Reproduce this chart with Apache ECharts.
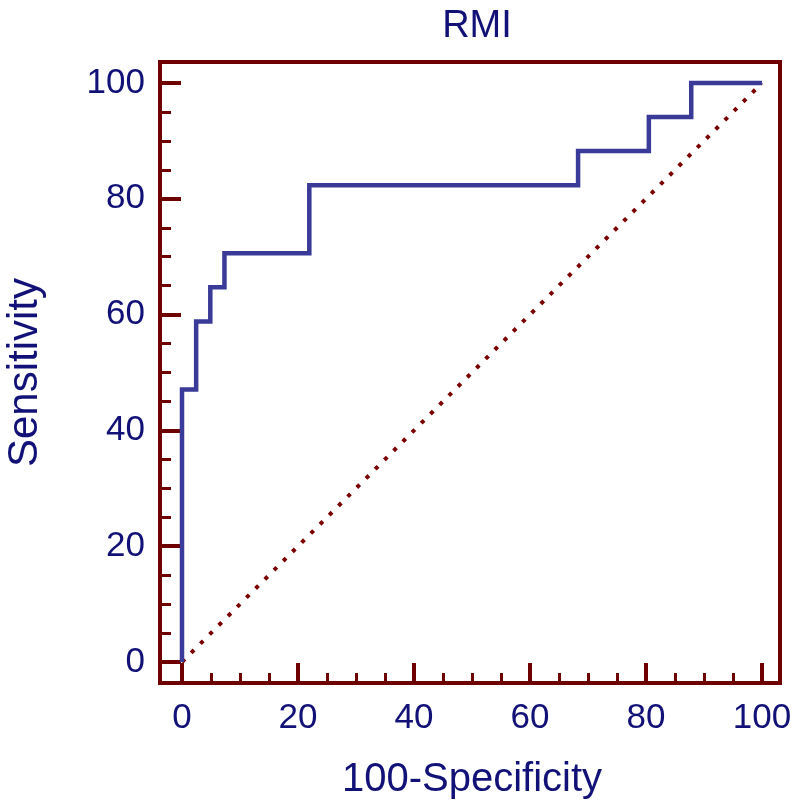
<!DOCTYPE html>
<html>
<head>
<meta charset="utf-8">
<script src="https://cdn.jsdelivr.net/npm/echarts@6/dist/echarts.min.js"></script>
<style>
html,body{margin:0;padding:0;background:#fff;}
#chart{width:798px;height:809px;}
</style>
</head>
<body>
<div id="chart"></div>
<script>
// ROC operating points (100-Specificity, Sensitivity)
const fpr = [0, 2.44, 4.88, 7.32, 21.95, 68.29, 80.49, 87.80, 100];
const sensitivity = [0, 47.06, 58.82, 64.71, 70.59, 82.35, 88.24, 94.12, 100];
const diagX = [0, 100];
const diagY = [0, 100];
const tickValues = [0, 20, 40, 60, 80, 100];

const textColor = '#111177';
const frameColor = '#6e0000';
const font = 'Liberation Sans, Arial, sans-serif';

const rocData = fpr.map((x, i) => [x, sensitivity[i]]);
const diagData = diagX.map((x, i) => [x, diagY[i]]);

const chart = echarts.init(document.getElementById('chart'), null, {renderer: 'canvas'});
chart.setOption({
  backgroundColor: '#ffffff',
  animation: false,
  title: {
    text: 'RMI',
    left: 472,
    textAlign: 'center',
    top: 3,
    textStyle: {color: textColor, fontFamily: font, fontSize: 38, fontWeight: 'normal'}
  },
  grid: [
    {left: 160, top: 62, width: 620, height: 621, show: true, borderColor: frameColor, borderWidth: 4,
     backgroundColor: 'transparent', containLabel: false, outerBoundsMode: 'none'},
    {left: 182, top: 83, width: 580, height: 579, containLabel: false, outerBoundsMode: 'none'}
  ],
  xAxis: [
    {gridIndex: 0, type: 'value', show: false, min: 0, max: 1},
    {
      gridIndex: 1, type: 'value', min: 0, max: 100, interval: 20,
      position: 'bottom', offset: 21,
      name: '100-Specificity', nameLocation: 'middle', nameGap: 77,
      nameTextStyle: {color: textColor, fontFamily: font, fontSize: 40},
      axisLine: {show: true, onZero: false, lineStyle: {color: frameColor, width: 4}},
      axisTick: {show: true, inside: true, length: 20, lineStyle: {color: frameColor, width: 4}},
      minorTick: {show: true, splitNumber: 4, length: 10, lineStyle: {color: frameColor, width: 3}},
      axisLabel: {color: textColor, fontFamily: font, fontSize: 35, margin: 18,
        formatter: v => tickValues.includes(v) ? String(v) : ''},
      splitLine: {show: false}
    }
  ],
  yAxis: [
    {gridIndex: 0, type: 'value', show: false, min: 0, max: 1},
    {
      gridIndex: 1, type: 'value', min: 0, max: 100, interval: 20,
      position: 'left', offset: 22,
      name: 'Sensitivity', nameLocation: 'middle', nameGap: 114,
      nameTextStyle: {color: textColor, fontFamily: font, fontSize: 42},
      axisLine: {show: true, onZero: false, lineStyle: {color: frameColor, width: 4}},
      axisTick: {show: true, inside: true, length: 21, lineStyle: {color: frameColor, width: 4}},
      minorTick: {show: true, splitNumber: 4, length: 11, lineStyle: {color: frameColor, width: 3}},
      axisLabel: {color: textColor, fontFamily: font, fontSize: 35, margin: 15,
        formatter: v => tickValues.includes(v) ? String(v) : ''},
      splitLine: {show: false}
    }
  ],
  series: [
    {
      type: 'line', xAxisIndex: 1, yAxisIndex: 1,
      data: diagData, symbol: 'none', clip: false, z: 2,
      lineStyle: {color: '#7a0000', width: 4, type: [4, 9], cap: 'butt'}
    },
    {
      type: 'line', xAxisIndex: 1, yAxisIndex: 1,
      data: rocData, step: 'start', symbol: 'none', clip: false, z: 3,
      lineStyle: {color: '#3a3a98', width: 4.5, cap: 'butt', join: 'miter'}
    }
  ]
});
</script>
</body>
</html>
